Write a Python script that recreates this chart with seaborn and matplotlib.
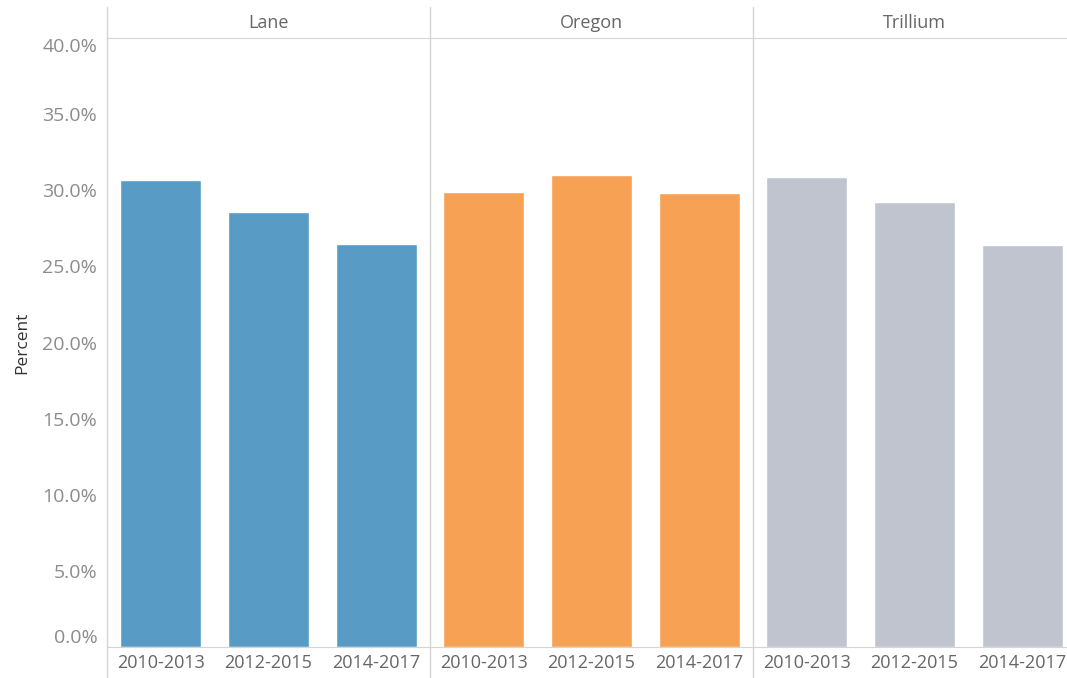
import pandas as pd
import matplotlib.pyplot as plt
import seaborn as sns
from matplotlib.lines import Line2D
from matplotlib.ticker import FuncFormatter

regions = ["Lane", "Oregon", "Trillium"]
periods = ["2010-2013", "2012-2015", "2014-2017"]
lane_pct = [30.7, 28.6, 26.5]
oregon_pct = [29.9, 31.0, 29.8]
trillium_pct = [30.9, 29.2, 26.4]
region_colors = ["#589BC4", "#F6A154", "#BFC4CF"]
y_ticks = [0, 5, 10, 15, 20, 25, 30, 35, 40]


def main():
    sns.set_style("white")
    plt.rcParams["font.family"] = ["Open Sans", "DejaVu Sans"]

    rows = []
    for region, values in zip(regions, [lane_pct, oregon_pct, trillium_pct]):
        for period, v in zip(periods, values):
            rows.append({"Region": region, "Period": period, "Percent": v})
    df = pd.DataFrame(rows)

    W, H = 1067, 678
    fig = plt.figure(figsize=(W / 100, H / 100), dpi=100)

    line_col = "#d4d4d4"
    left_px, panel_px = 107, 323
    top_px, base_px = 38, 647

    for i, (region, color) in enumerate(zip(regions, region_colors)):
        x0 = left_px + i * panel_px
        ax = fig.add_axes([x0 / W, 1 - base_px / H, panel_px / W, (base_px - top_px) / H])
        sns.barplot(
            data=df[df["Region"] == region],
            x="Period",
            y="Percent",
            color=color,
            width=0.75,
            saturation=1,
            ax=ax,
        )
        ax.set_ylim(0, 40)
        ax.set_xlim(-0.5, 2.5)
        ax.set_xlabel("")
        ax.set_ylabel("")
        for s in ["left", "right"]:
            ax.spines[s].set_visible(False)
        ax.spines["top"].set_color(line_col)
        ax.spines["bottom"].set_color(line_col)
        ax.tick_params(axis="both", length=0)
        ax.tick_params(axis="x", pad=5, labelsize=13, labelcolor="#666666")
        ax.set_yticks(y_ticks)
        if i == 0:
            ax.yaxis.set_major_formatter(FuncFormatter(lambda v, p: f"{v:.1f}%"))
            ax.tick_params(axis="y", pad=7, labelsize=14, labelcolor="#8c8c8c")
            labels = ax.get_yticklabels()
            labels[0].set_va("bottom")
            labels[-1].set_va("top")
            ax.set_ylabel("Percent", fontsize=12.5, color="#333333", labelpad=9)
        else:
            ax.set_yticklabels([])
        ax.text(0.5, (top_px - 23) / (base_px - top_px) + 1, region,
                transform=ax.transAxes, ha="center", va="center",
                fontsize=13, color="#666666")

    # panel dividers running through header and x labels
    for i in range(3):
        x = (left_px + i * panel_px) / W
        fig.add_artist(Line2D([x, x], [0, 1 - 7 / H], color=line_col, lw=1))

    fig.savefig("out.png", dpi=100)
    plt.close(fig)


if __name__ == "__main__":
    main()
